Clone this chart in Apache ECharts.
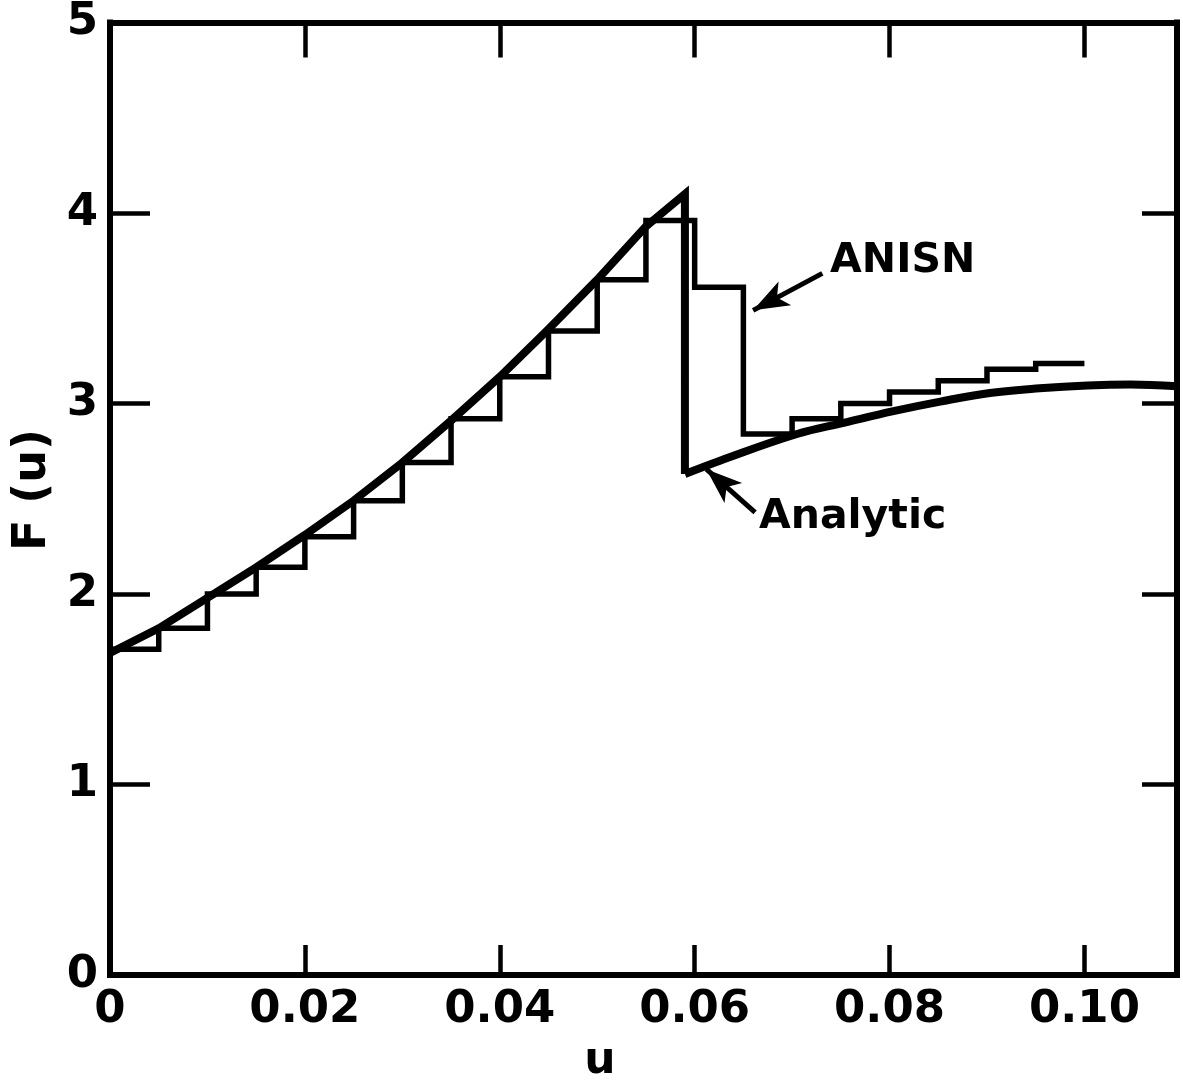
<!DOCTYPE html>
<html>
<head>
<meta charset="utf-8">
<script src="https://cdn.jsdelivr.net/npm/echarts@6/dist/echarts.min.js"></script>
<style>
  html, body { margin: 0; padding: 0; background: #ffffff; }
  #chart { width: 1183px; height: 1081px; }
</style>
</head>
<body>
<div id="chart"></div>
<script>
// Lethargy grid: ANISN group edges (u) and the group-averaged F(u)
const uEdges = [0, 0.005, 0.010, 0.015, 0.020, 0.025, 0.030, 0.035, 0.040, 0.045,
                0.050, 0.055, 0.060, 0.065, 0.070, 0.075, 0.080, 0.085, 0.090, 0.095, 0.100];
const anisnF = [1.71, 1.82, 2.00, 2.14, 2.30, 2.49, 2.69, 2.92, 3.14, 3.38,
                3.65, 3.96, 3.61, 2.84, 2.92, 3.00, 3.06, 3.12, 3.18, 3.21];

// Analytic solution F(u): rising branch up to the discontinuity at u = 0.059 ...
const analyticRiseU = [0, 0.005, 0.010, 0.015, 0.020, 0.025, 0.030, 0.035, 0.040, 0.045,
                       0.050, 0.055, 0.059, 0.059];
const analyticRiseF = [1.69, 1.82, 1.98, 2.14, 2.31, 2.49, 2.69, 2.91, 3.14, 3.39,
                       3.65, 3.93, 4.10, 2.63];
// ... and the recovering branch after it
const analyticTailU = [0.059, 0.0626, 0.0705, 0.0754, 0.0804, 0.0852, 0.0903, 0.0954, 0.1003, 0.1047, 0.1095];
const analyticTailF = [2.63, 2.70, 2.84, 2.90, 2.96, 3.01, 3.055, 3.08, 3.095, 3.10, 3.09];

// Axis tick labels
const xTickLabels = ['0', '0.02', '0.04', '0.06', '0.08', '0.10'];
const yTickLabels = ['0', '1', '2', '3', '4', '5'];

// Annotation arrows: [tail u, tail F, head u, head F]
const anisnArrow = [0.0731, 3.683, 0.0660, 3.489];
const analyticArrow = [0.0662, 2.429, 0.0612, 2.655];
// Annotation text anchors (left edge, vertical middle)
const anisnTextAt = [0.0739, 3.745];
const analyticTextAt = [0.0666, 2.40];

const FONT = 'DejaVu Sans';
const INK = '#000000';

const stepData = uEdges.map((u, i) => [u, anisnF[Math.min(i, anisnF.length - 1)]]);
const riseData = analyticRiseU.map((u, i) => [u, analyticRiseF[i]]);
const tailData = analyticTailU.map((u, i) => [u, analyticTailF[i]]);

function xFmt(v) {
  const i = Math.round(v / 0.02);
  return Math.abs(v - i * 0.02) < 1e-9 && xTickLabels[i] !== undefined ? xTickLabels[i] : '';
}
function yFmt(v) {
  const i = Math.round(v);
  return Math.abs(v - i) < 1e-9 && yTickLabels[i] !== undefined ? yTickLabels[i] : '';
}

const axisLine = { show: true, onZero: false, lineStyle: { color: INK, width: 6, cap: 'square' } };
function tick(len) { return { show: true, inside: true, length: len, lineStyle: { color: INK, width: 4.5 } }; }
const annoLabel = { fontFamily: FONT, fontWeight: 'bold', fontSize: 41, color: INK };

const chart = echarts.init(document.getElementById('chart'), null, { renderer: 'canvas' });
chart.setOption({
  animation: false,
  backgroundColor: '#ffffff',
  grid: { left: 110, right: 6, top: 22, bottom: 106, containLabel: false },
  xAxis: [
    {
      type: 'value', position: 'bottom', min: 0, max: 0.1095, interval: 0.02,
      axisLine: axisLine, axisTick: tick(30), splitLine: { show: false },
      axisLabel: { formatter: xFmt, fontFamily: FONT, fontWeight: 'bold', fontSize: 45, color: INK, margin: 13, showMaxLabel: false }
    },
    {
      type: 'value', position: 'top', min: 0, max: 0.1095, interval: 0.02,
      axisLine: axisLine, axisTick: tick(35), splitLine: { show: false },
      axisLabel: { show: false }
    }
  ],
  yAxis: [
    {
      type: 'value', position: 'left', min: 0, max: 5, interval: 1,
      axisLine: axisLine, axisTick: tick(40), splitLine: { show: false },
      axisLabel: { formatter: yFmt, fontFamily: FONT, fontWeight: 'bold', fontSize: 45, color: INK, margin: 12 }
    },
    {
      type: 'value', position: 'right', min: 0, max: 5, interval: 1,
      axisLine: axisLine, axisTick: tick(35), splitLine: { show: false },
      axisLabel: { show: false }
    }
  ],
  series: [
    {
      name: 'ANISN', type: 'line', step: 'end', xAxisIndex: 0, yAxisIndex: 0,
      data: stepData, symbol: 'none',
      lineStyle: { color: INK, width: 5.5, join: 'miter', cap: 'butt' },
      markLine: {
        silent: true, symbol: ['none', 'arrow'], symbolSize: [20, 36],
        lineStyle: { color: INK, width: 5, type: 'solid' },
        label: { show: false },
        data: [[{ coord: [anisnArrow[0], anisnArrow[1]] }, { coord: [anisnArrow[2], anisnArrow[3]] }]]
      },
      markPoint: {
        silent: true, symbol: 'circle', symbolSize: 0,
        data: [{
          coord: anisnTextAt,
          label: Object.assign({ show: true, formatter: 'ANISN', position: [0, 0], align: 'left', verticalAlign: 'middle' }, annoLabel)
        }]
      }
    },
    {
      name: 'Analytic', type: 'line', xAxisIndex: 0, yAxisIndex: 0,
      data: riseData, symbol: 'none',
      lineStyle: { color: INK, width: 8, join: 'miter', cap: 'butt' },
      markLine: {
        silent: true, symbol: ['none', 'arrow'], symbolSize: [20, 36],
        lineStyle: { color: INK, width: 5, type: 'solid' },
        label: { show: false },
        data: [[{ coord: [analyticArrow[0], analyticArrow[1]] }, { coord: [analyticArrow[2], analyticArrow[3]] }]]
      },
      markPoint: {
        silent: true, symbol: 'circle', symbolSize: 0,
        data: [{
          coord: analyticTextAt,
          label: Object.assign({ show: true, formatter: 'Analytic', position: [0, 0], align: 'left', verticalAlign: 'middle' }, annoLabel)
        }]
      }
    },
    {
      name: 'Analytic (u > 0.059)', type: 'line', xAxisIndex: 0, yAxisIndex: 0,
      data: tailData, symbol: 'none', smooth: 0.4,
      lineStyle: { color: INK, width: 8, join: 'miter', cap: 'butt' }
    }
  ],
  graphic: [
    { type: 'text', x: 600, y: 1062, style: { text: 'u', font: 'bold 44px "DejaVu Sans"', fill: INK, textAlign: 'center', textVerticalAlign: 'middle' } },
    { type: 'text', x: 33, y: 490, rotation: Math.PI / 2, style: { text: 'F (u)', font: 'bold 46px "DejaVu Sans"', fill: INK, textAlign: 'center', textVerticalAlign: 'middle' } }
  ]
});
</script>
</body>
</html>
